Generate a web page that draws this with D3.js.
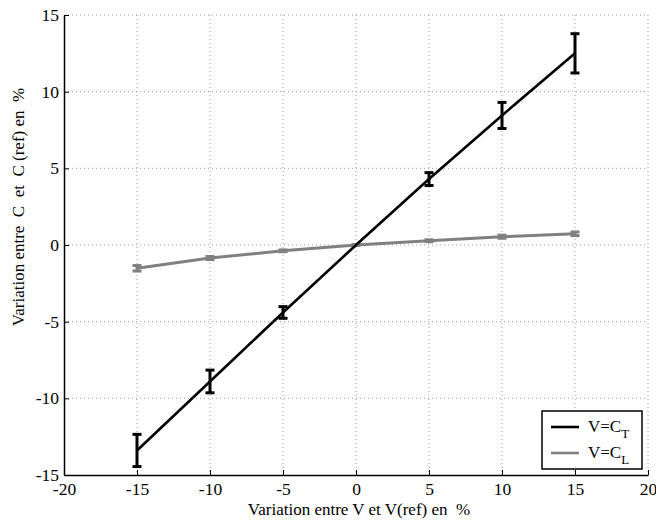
<!DOCTYPE html>
<html>
<head>
<meta charset="utf-8">
<script src="https://cdn.jsdelivr.net/npm/d3@7"></script>
</head>
<body style="margin:0">
<svg id="chart" width="656" height="522"></svg>
<script>
// variation of V (in %)
var variations = [-15, -10, -5, 0, 5, 10, 15];
// V = C_T : mean and half error
var ct_values = [-13.4, -8.9, -4.4, 0, 4.3, 8.45, 12.5];
var ct_errors = [1.05, 0.74, 0.38, 0, 0.42, 0.85, 1.28];
// V = C_L : mean and half error
var cl_values = [-1.52, -0.85, -0.38, 0, 0.28, 0.54, 0.73];
var cl_errors = [0.18, 0.1, 0.06, 0.03, 0.06, 0.1, 0.12];
var x_ticks = [-20, -15, -10, -5, 0, 5, 10, 15, 20];
var y_ticks = [-15, -10, -5, 0, 5, 10, 15];

var serif = '"Liberation Serif", "Tinos", "Times New Roman", serif';
var svg = d3.select('#chart').style('font-family', serif);
var plot_left = 64, plot_right = 648, plot_top = 15, plot_bottom = 475;

var x = d3.scaleLinear().domain([-20, 20]).range([plot_left, plot_right]);
var y = d3.scaleLinear().domain([-15, 15]).range([plot_bottom, plot_top]);
var fmt = function (d) { return String(d); };  // plain hyphen minus

// dotted grid
svg.append('g').selectAll('line')
    .data(x_ticks.slice(1))
  .enter().append('line')
    .attr('x1', function (d) { return x(d); })
    .attr('x2', function (d) { return x(d); })
    .attr('y1', plot_top).attr('y2', plot_bottom)
    .attr('stroke', '#999').attr('stroke-width', 1)
    .attr('stroke-dasharray', '1,3');
svg.append('g').selectAll('line')
    .data(y_ticks.slice(1))
  .enter().append('line')
    .attr('y1', function (d) { return y(d); })
    .attr('y2', function (d) { return y(d); })
    .attr('x1', plot_left).attr('x2', plot_right)
    .attr('stroke', '#999').attr('stroke-width', 1)
    .attr('stroke-dasharray', '1,3');

// axes, ticks pointing inwards
var x_axis = svg.append('g')
    .attr('transform', 'translate(0,' + plot_bottom + ')')
    .call(d3.axisBottom(x).tickValues(x_ticks).tickFormat(fmt)
        .tickSizeInner(-5).tickSizeOuter(0));
var y_axis = svg.append('g')
    .attr('transform', 'translate(' + plot_left + ',0)')
    .call(d3.axisLeft(y).tickValues(y_ticks).tickFormat(fmt)
        .tickSizeInner(-5).tickSizeOuter(0).tickPadding(5));
[x_axis, y_axis].forEach(function (a) {
    a.attr('font-family', null).attr('font-size', null);
    a.select('.domain').attr('stroke', '#000').attr('stroke-width', 1.5);
    a.selectAll('.tick line').attr('stroke', '#000').attr('stroke-width', 1);
    a.selectAll('.tick text')
        .attr('fill', '#000')
        .attr('font-size', 17.5)
        .style('font-family', '"Liberation Serif"');
});
x_axis.selectAll('.tick text').attr('y', 20).attr('dy', null);

function draw_series(values, errors, color, width) {
    var pts = variations.map(function (v, i) {
        return { x: v, y: values[i], e: errors[i] };
    });
    var line = d3.line()
        .x(function (d) { return x(d.x); })
        .y(function (d) { return y(d.y); });
    svg.append('path')
        .datum(pts)
        .attr('d', line)
        .attr('fill', 'none')
        .attr('stroke', color)
        .attr('stroke-width', width);

    var bars = svg.append('g').selectAll('g')
        .data(pts.filter(function (d) { return d.e > 0; }))
      .enter().append('g')
        .attr('stroke', color)
        .attr('stroke-width', 3);
    bars.append('line')
        .attr('x1', function (d) { return x(d.x); })
        .attr('x2', function (d) { return x(d.x); })
        .attr('y1', function (d) { return y(d.y + d.e); })
        .attr('y2', function (d) { return y(d.y - d.e); });
    [1, -1].forEach(function (s) {
        bars.append('line')
            .attr('x1', function (d) { return x(d.x) - 4.5; })
            .attr('x2', function (d) { return x(d.x) + 4.5; })
            .attr('y1', function (d) { return y(d.y + s * d.e); })
            .attr('y2', function (d) { return y(d.y + s * d.e); });
    });
}

draw_series(cl_values, cl_errors, '#808080', 3);
draw_series(ct_values, ct_errors, '#000', 2.6);

// axis labels
svg.append('text')
    .attr('x', 359).attr('y', 515)
    .attr('text-anchor', 'middle')
    .attr('font-size', 17)
    .style('font-family', '"Liberation Serif"')
    .attr('xml:space', 'preserve')
    .text('Variation entre V et V(ref) en  %');
svg.append('text')
    .attr('transform', 'translate(24,207) rotate(-90)')
    .attr('text-anchor', 'middle')
    .attr('font-size', 17)
    .style('font-family', '"Liberation Serif"')
    .attr('xml:space', 'preserve')
    .text('Variation entre  C  et  C (ref) en  %');

// legend
var legend = svg.append('g');
legend.append('rect')
    .attr('x', 542).attr('y', 411).attr('width', 100).attr('height', 58)
    .attr('fill', '#fff').attr('stroke', '#000').attr('stroke-width', 1.5);
var legend_items = [
    { label: 'V=C', sub: 'T', color: '#000' },
    { label: 'V=C', sub: 'L', color: '#808080' }
];
legend_items.forEach(function (item, i) {
    var ly = 427 + i * 26;
    legend.append('line')
        .attr('x1', 551).attr('x2', 579)
        .attr('y1', ly).attr('y2', ly)
        .attr('stroke', item.color).attr('stroke-width', 2.6);
    var t = legend.append('text')
        .attr('x', 588).attr('y', ly + 5)
        .attr('font-size', 17)
        .style('font-family', '"Liberation Serif"');
    t.append('tspan').text(item.label);
    t.append('tspan').attr('dy', 6).attr('font-size', 13).text(item.sub);
});
</script>
</body>
</html>
